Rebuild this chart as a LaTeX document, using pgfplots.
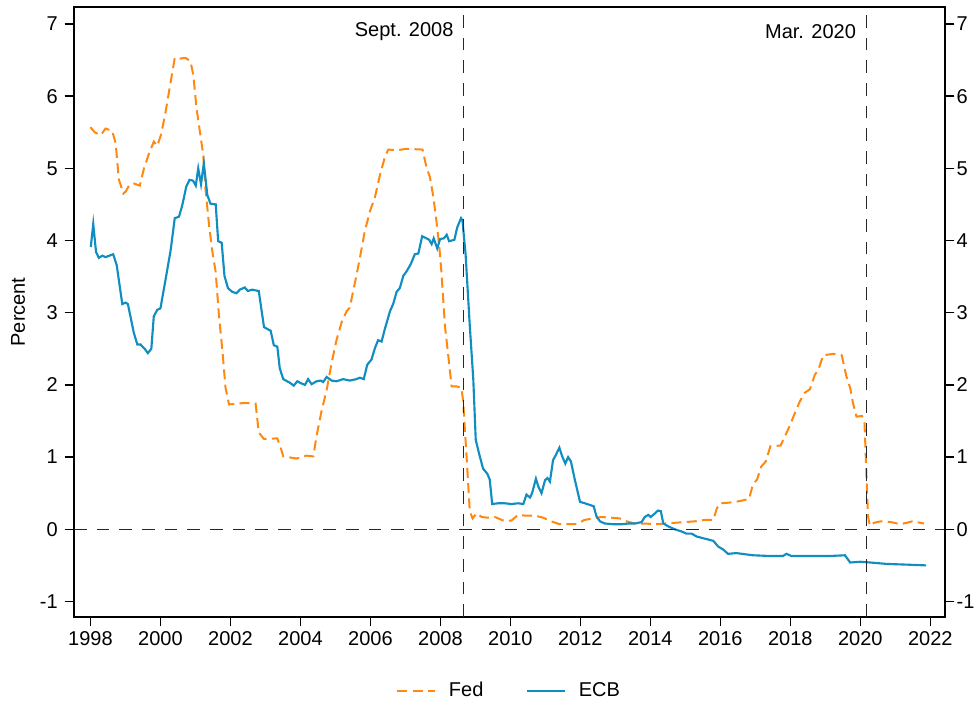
\documentclass[border=0pt]{standalone}
\usepackage{fontspec}
\setmainfont{Liberation Sans}
\usepackage{pgfplots}
\pgfplotsset{compat=1.18}
\definecolor{fedorange}{RGB}{255,136,17}
\definecolor{ecbblue}{RGB}{16,141,193}
\begin{document}
\fontsize{15}{18}\selectfont
\begin{tikzpicture}
\useasboundingbox (-55.5pt,-66.75pt) rectangle (678.75pt,462.75pt);
\begin{axis}[
  scale only axis, width=653.25pt, height=457.5pt,
  xmin=1997.53, xmax=2022.42, ymin=-1.215, ymax=7.235,
  axis line style={line width=1.1pt},
  xtick={1998,2000,...,2022}, ytick={-1,0,...,7},
  xtick pos=left, ytick pos=both, yticklabel pos=left,
  tick align=outside, major tick length=7pt,
  tick style={black, line width=1pt},
  /pgf/number format/assume math mode=true,
  /pgf/number format/1000 sep={},
  yticklabel style={inner sep=5pt},
  xticklabel style={inner sep=4pt},
  ylabel={Percent},
  every axis y label/.style={at={(axis description cs:-0.0643,0.5)}, rotate=90, anchor=center},
  legend style={draw=none, at={(0.5,-0.1215)}, anchor=center, legend columns=2,
    /tikz/every even column/.append style={column sep=30pt}},
  legend image code/.code={\draw[#1] (0pt,0pt) -- (28pt,0pt); \path (36pt,0pt);},
]
\addplot[fedorange, line width=1.5pt, dash pattern=on 7.5pt off 4pt] coordinates {
(1998.00,5.57) (1998.12,5.50) (1998.29,5.46) (1998.43,5.55) (1998.62,5.52) (1998.72,5.35)
(1998.81,4.85) (1998.94,4.65) (1999.01,4.68) (1999.10,4.76) (1999.24,4.79) (1999.41,4.76)
(1999.53,5.00) (1999.67,5.20) (1999.81,5.37) (1999.91,5.31) (2000.02,5.47) (2000.15,5.79)
(2000.29,6.19) (2000.41,6.53) (2000.56,6.52) (2000.72,6.53) (2000.86,6.48) (2000.94,6.29)
(2001.03,5.84) (2001.13,5.50) (2001.22,5.20) (2001.29,4.70) (2001.39,4.21) (2001.48,3.86)
(2001.58,3.56) (2001.67,2.97) (2001.77,2.48) (2001.86,1.96) (2001.96,1.73) (2002.20,1.74)
(2002.39,1.75) (2002.72,1.74) (2002.81,1.34) (2002.96,1.25) (2003.34,1.26) (2003.43,1.14)
(2003.51,1.01) (2003.76,0.99) (2003.88,0.98) (2004.05,1.00) (2004.17,1.02) (2004.37,1.01)
(2004.46,1.29) (2004.60,1.63) (2004.75,1.93) (2004.89,2.30) (2005.03,2.62) (2005.18,2.87)
(2005.32,3.02) (2005.41,3.07) (2005.56,3.42) (2005.70,3.76) (2005.84,4.13) (2005.99,4.41)
(2006.13,4.60) (2006.27,4.90) (2006.41,5.15) (2006.51,5.26) (2006.75,5.25) (2007.03,5.27)
(2007.49,5.26) (2007.60,5.02) (2007.70,4.88) (2007.80,4.60) (2007.89,4.26) (2007.97,3.91)
(2008.03,3.56) (2008.13,2.82) (2008.22,2.43) (2008.32,1.98) (2008.46,1.98) (2008.60,1.96)
(2008.65,1.78) (2008.75,0.99) (2008.84,0.25) (2008.92,0.15) (2009.03,0.22) (2009.18,0.17)
(2009.37,0.16) (2009.56,0.17) (2009.80,0.12) (2010.03,0.12) (2010.22,0.20) (2010.41,0.19)
(2010.70,0.19) (2010.94,0.16) (2011.17,0.11) (2011.41,0.07) (2011.60,0.07) (2011.89,0.07)
(2012.12,0.13) (2012.36,0.15) (2012.60,0.17) (2012.89,0.16) (2013.13,0.15) (2013.32,0.11)
(2013.56,0.08) (2013.85,0.08) (2014.13,0.07) (2014.42,0.08) (2014.70,0.09) (2014.99,0.10)
(2015.27,0.11) (2015.56,0.13) (2015.80,0.13) (2015.90,0.29) (2016.00,0.36) (2016.27,0.37)
(2016.55,0.39) (2016.82,0.42) (2016.93,0.62) (2017.05,0.69) (2017.17,0.87) (2017.30,0.94)
(2017.43,1.15) (2017.72,1.16) (2017.84,1.28) (2017.98,1.43) (2018.13,1.61) (2018.27,1.77)
(2018.41,1.89) (2018.56,1.94) (2018.70,2.14) (2018.80,2.21) (2018.94,2.41) (2019.23,2.43)
(2019.47,2.41) (2019.60,2.12) (2019.71,1.96) (2019.79,1.75) (2019.89,1.56) (2020.05,1.57)
(2020.12,1.47) (2020.17,0.82) (2020.22,0.18) (2020.27,0.05) (2020.39,0.09) (2020.58,0.11)
(2020.87,0.10) (2021.15,0.07) (2021.49,0.11) (2021.82,0.08)
};
\addlegendentry{Fed}
\addplot[ecbblue, line width=1.6pt] coordinates {
(1998.01,3.91) (1998.08,4.23) (1998.16,3.84) (1998.24,3.76) (1998.34,3.79) (1998.43,3.77)
(1998.65,3.81) (1998.75,3.66) (1998.91,3.12) (1999.00,3.14) (1999.07,3.12) (1999.24,2.72)
(1999.34,2.56) (1999.43,2.56) (1999.55,2.50) (1999.64,2.44) (1999.74,2.50) (1999.81,2.95)
(1999.91,3.04) (2000.00,3.06) (2000.15,3.47) (2000.29,3.86) (2000.41,4.31) (2000.53,4.33)
(2000.62,4.48) (2000.74,4.75) (2000.83,4.84) (2000.93,4.83) (2001.01,4.76) (2001.08,5.00)
(2001.16,4.78) (2001.24,5.07) (2001.34,4.63) (2001.43,4.51) (2001.58,4.50) (2001.65,3.99)
(2001.75,3.97) (2001.83,3.51) (2001.93,3.34) (2002.05,3.29) (2002.17,3.27) (2002.27,3.32)
(2002.41,3.35) (2002.50,3.30) (2002.62,3.32) (2002.81,3.30) (2002.96,2.80) (2003.15,2.75)
(2003.24,2.55) (2003.34,2.53) (2003.41,2.23) (2003.51,2.08) (2003.62,2.05) (2003.70,2.03)
(2003.81,1.99) (2003.91,2.05) (2004.03,2.02) (2004.13,2.00) (2004.22,2.08) (2004.32,2.01)
(2004.46,2.05) (2004.58,2.06) (2004.65,2.04) (2004.75,2.11) (2004.89,2.06) (2005.03,2.05)
(2005.22,2.08) (2005.41,2.06) (2005.60,2.08) (2005.70,2.10) (2005.81,2.08) (2005.91,2.28)
(2006.03,2.35) (2006.13,2.51) (2006.22,2.62) (2006.32,2.60) (2006.41,2.77) (2006.56,3.02)
(2006.65,3.12) (2006.75,3.29) (2006.84,3.34) (2006.94,3.51) (2007.03,3.57) (2007.15,3.67)
(2007.27,3.81) (2007.37,3.82) (2007.48,4.06) (2007.60,4.03) (2007.68,4.01) (2007.75,3.95)
(2007.81,4.03) (2007.91,3.89) (2007.99,4.02) (2008.10,4.03) (2008.18,4.08) (2008.25,3.99)
(2008.40,4.01) (2008.48,4.18) (2008.59,4.31) (2008.63,4.28) (2008.72,3.81) (2008.84,2.82)
(2008.94,2.08) (2009.01,1.24) (2009.11,1.04) (2009.22,0.84) (2009.34,0.77) (2009.41,0.69)
(2009.48,0.35) (2009.65,0.36) (2009.84,0.36) (2010.03,0.35) (2010.22,0.36) (2010.37,0.35)
(2010.46,0.48) (2010.56,0.44) (2010.62,0.50) (2010.73,0.70) (2010.80,0.59) (2010.89,0.50)
(2010.99,0.68) (2011.06,0.71) (2011.13,0.66) (2011.22,0.96) (2011.29,1.02) (2011.40,1.13)
(2011.48,1.01) (2011.57,0.91) (2011.65,1.00) (2011.73,0.94) (2011.84,0.69) (2011.99,0.38)
(2012.13,0.36) (2012.38,0.32) (2012.46,0.18) (2012.56,0.11) (2012.70,0.08) (2012.94,0.07)
(2013.18,0.07) (2013.37,0.08) (2013.56,0.08) (2013.75,0.10) (2013.84,0.17) (2013.94,0.20)
(2014.01,0.17) (2014.13,0.22) (2014.22,0.26) (2014.30,0.25) (2014.37,0.08) (2014.51,0.04)
(2014.70,0.00) (2014.89,-0.03) (2015.03,-0.06) (2015.18,-0.06) (2015.32,-0.10) (2015.56,-0.13)
(2015.80,-0.16) (2015.94,-0.24) (2016.08,-0.28) (2016.22,-0.34) (2016.46,-0.33) (2016.93,-0.36)
(2017.41,-0.37) (2017.79,-0.37) (2017.89,-0.34) (2018.03,-0.37) (2018.65,-0.37) (2019.13,-0.37)
(2019.56,-0.36) (2019.71,-0.46) (2020.00,-0.45) (2020.28,-0.46) (2020.76,-0.48) (2021.34,-0.49)
(2021.88,-0.50)
};
\addlegendentry{ECB}
\addplot[black!85, line width=0.9pt, dash pattern=on 9.5pt off 7.5pt, forget plot] coordinates {(1997.53,0) (2022.42,0)};
\addplot[black!85, line width=0.9pt, dash pattern=on 9.5pt off 7.5pt, forget plot] coordinates {(2008.667,-1.215) (2008.667,7.235)};
\addplot[black!85, line width=0.9pt, dash pattern=on 9.5pt off 7.5pt, forget plot] coordinates {(2020.167,-1.215) (2020.167,7.235)};
\node[anchor=east, inner sep=0pt, xshift=-7.5pt] at (axis cs:2008.667,6.89) {Sept. 2008};
\node[anchor=east, inner sep=0pt, xshift=-7.5pt] at (axis cs:2020.167,6.89) {Mar. 2020};
\end{axis}
\begin{axis}[
  scale only axis, width=653.25pt, height=457.5pt,
  xmin=1997.53, xmax=2022.42, ymin=-1.215, ymax=7.235,
  hide x axis, axis y line*=right,
  axis line style={line width=1.1pt},
  ytick={-1,0,...,7},
  tick align=outside, major tick length=7pt,
  tick style={black, line width=1pt},
  /pgf/number format/assume math mode=true,
  yticklabel style={inner sep=1.5pt},
]
\addplot[draw=none] coordinates {(2000,0)};
\end{axis}
\end{tikzpicture}
\end{document}
